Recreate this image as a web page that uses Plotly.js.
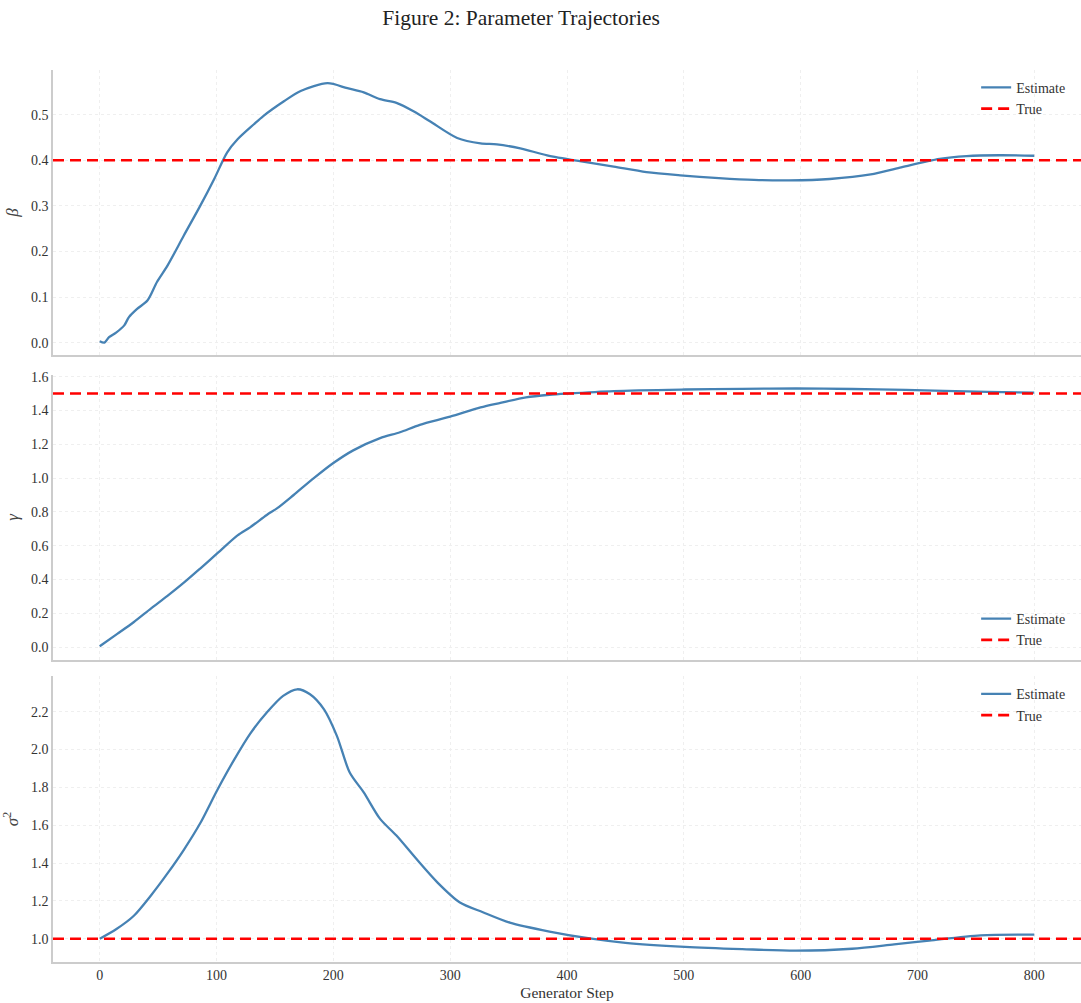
<!DOCTYPE html>
<html>
<head>
<meta charset="utf-8">
<script src="https://cdn.plot.ly/plotly-3.0.1.min.js"></script>
<style>html,body{margin:0;padding:0;background:#fff;}#chart{width:1081px;height:1003px;}</style>
</head>
<body>
<div id="chart"></div>
<script>
// ---- data ----
const stepsBeta = [0,4,8,14,21,25,32,41,49,58,72,86,98,109,118,132,140,158,172,195,212,226,240,254,269,283,306,326,340,360,383,411,440,468,497,530,560,590,625,660,685,719,742,770,800];
const betaEst   = [0.003,0.0,0.012,0.022,0.038,0.056,0.074,0.093,0.133,0.169,0.235,0.300,0.359,0.417,0.446,0.479,0.497,0.530,0.552,0.569,0.558,0.549,0.534,0.526,0.507,0.485,0.449,0.437,0.435,0.426,0.411,0.398,0.386,0.374,0.367,0.361,0.357,0.356,0.359,0.369,0.384,0.403,0.409,0.411,0.410];

const stepsGamma = [0,15,29,44,58,72,86,101,118,129,143,152,166,183,200,217,240,257,274,300,326,343,365,385,400,440,501,550,596,644,690,723,760,800];
const gammaEst   = [0.005,0.078,0.147,0.229,0.303,0.381,0.465,0.557,0.661,0.710,0.782,0.822,0.900,0.998,1.089,1.164,1.236,1.271,1.315,1.363,1.418,1.445,1.478,1.493,1.500,1.515,1.524,1.528,1.530,1.527,1.522,1.516,1.510,1.505];

const stepsSigma = [0,14,29,44,58,72,86,101,115,129,143,157,169,180,192,203,214,226,240,254,271,289,308,328,351,385,421,450,501,550,596,644,680,710,754,800];
const sigmaEst   = [1.0,1.05,1.12,1.23,1.345,1.47,1.61,1.79,1.945,2.085,2.195,2.283,2.318,2.292,2.212,2.072,1.878,1.773,1.633,1.545,1.422,1.298,1.193,1.14,1.085,1.038,1.0,0.978,0.957,0.945,0.937,0.947,0.97,0.99,1.018,1.022];

const trueValues = {beta: 0.4, gamma: 1.5, sigma: 1.0};
const xRange = [-40, 840];
const legendNames = ['Estimate', 'True'];

const FONT = 'Liberation Serif, Times New Roman, serif';
const BLUE = '#4682b4';
const RED = '#ff0000';

function est(x, y, xa, ya, lg) {
  return {x: x, y: y, xaxis: xa, yaxis: ya, type: 'scatter', mode: 'lines', name: legendNames[0],
    line: {color: BLUE, width: 2.3, shape: 'spline', smoothing: 0.8}, legend: lg, hoverinfo: 'skip'};
}
function tru(v, xa, ya, lg) {
  return {x: xRange, y: [v, v], xaxis: xa, yaxis: ya, type: 'scatter', mode: 'lines', name: legendNames[1],
    line: {color: RED, width: 2.6, dash: '11px,6px'}, legend: lg, hoverinfo: 'skip'};
}

const traces = [
  est(stepsBeta, betaEst, 'x', 'y', 'legend'),
  tru(trueValues.beta, 'x', 'y', 'legend'),
  est(stepsGamma, gammaEst, 'x2', 'y2', 'legend2'),
  tru(trueValues.gamma, 'x2', 'y2', 'legend2'),
  est(stepsSigma, sigmaEst, 'x3', 'y3', 'legend3'),
  tru(trueValues.sigma, 'x3', 'y3', 'legend3')
];

const gridC = '#efefef';
const lineC = '#cccccc';
function xax(anchor, showLabels, title) {
  const a = {range: xRange, anchor: anchor, domain: [0, 1], showline: true, linecolor: lineC, linewidth: 1.6,
    showgrid: true, gridcolor: gridC, gridwidth: 1, griddash: 'dot', zeroline: false, ticks: '',
    tickmode: 'linear', tick0: 0, dtick: 100, showticklabels: showLabels,
    tickfont: {family: FONT, size: 14, color: '#333'}, mirror: false};
  if (title) a.title = {text: title, font: {family: FONT, size: 15.5, color: '#333'}, standoff: 5};
  return a;
}
function yax(anchor, domain, range, dtick, title) {
  return {range: range, anchor: anchor, domain: domain, showline: true, linecolor: lineC, linewidth: 1.6,
    showgrid: true, gridcolor: gridC, gridwidth: 1, griddash: 'dot', zeroline: false, ticks: '',
    tickmode: 'linear', tick0: 0, dtick: dtick, tickformat: '.1f',
    tickfont: {family: FONT, size: 14, color: '#333'},
    title: {text: title, font: {family: FONT, size: 17, color: '#444'}, standoff: 8}};
}

const legendBase = {font: {family: FONT, size: 14, color: '#333'}, bgcolor: 'rgba(255,255,255,0)',
  borderwidth: 0, xref: 'paper', yref: 'paper', x: 0.898, xanchor: 'left', itemwidth: 30, tracegroupgap: 0};

const layout = {
  width: 1081, height: 1003,
  margin: {l: 53, r: 0, t: 70, b: 41},
  paper_bgcolor: '#ffffff', plot_bgcolor: '#ffffff',
  title: {text: 'Figure 2: Parameter Trajectories', font: {family: FONT, size: 21.5, color: '#222'},
    x: 0.482, xanchor: 'center', xref: 'container', y: 0.983, yanchor: 'middle', yref: 'container'},
  font: {family: FONT},
  showlegend: true,
  xaxis: xax('y', false),
  xaxis2: xax('y2', false),
  xaxis3: xax('y3', true, 'Generator Step'),
  yaxis: yax('x', [0.6805, 1], [-0.027, 0.598], 0.1, '<i>β</i>'),
  yaxis2: yax('x2', [0.3386, 0.6581], [-0.076, 1.61], 0.2, '<i>γ</i>'),
  yaxis3: yax('x3', [0, 0.3206], [0.877, 2.388], 0.2, '<i>σ</i><sup>2</sup>'),
  legend: Object.assign({}, legendBase, {y: 0.998, yanchor: 'top'}),
  legend2: Object.assign({}, legendBase, {y: 0.343, yanchor: 'bottom'}),
  legend3: Object.assign({}, legendBase, {y: 0.318, yanchor: 'top'})
};

Plotly.newPlot('chart', traces, layout, {displayModeBar: false, staticPlot: true});
</script>
</body>
</html>
